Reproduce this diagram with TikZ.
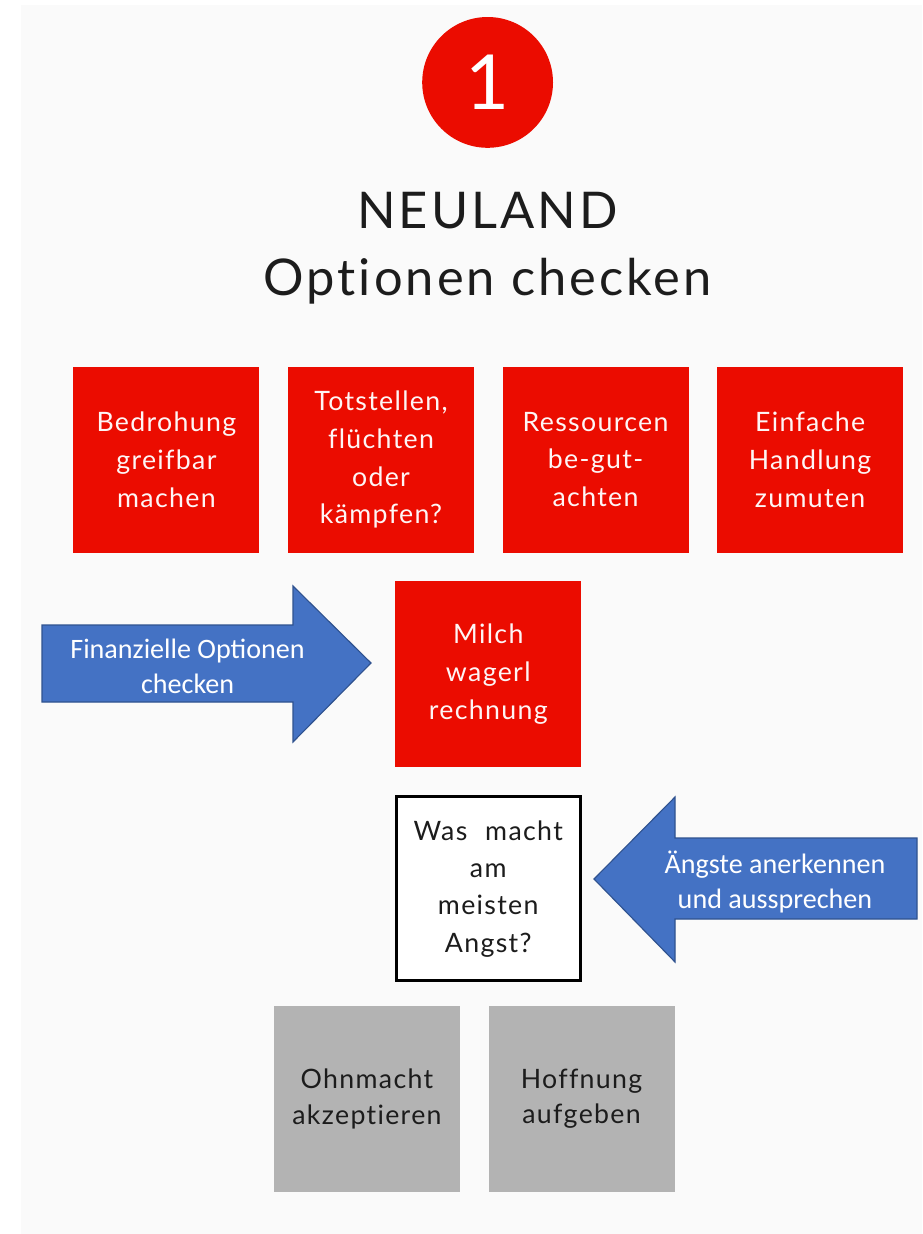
\documentclass[tikz,border=0pt]{standalone}
\usepackage{fontspec}
\setmainfont{Lato}[Ligatures=NoCommon]
\newfontfamily\boxfont{Lato}[LetterSpace=5,Ligatures=NoCommon]
\newfontfamily\titlefont{Lato}[LetterSpace=6,Ligatures=NoCommon]
\newfontfamily\calibri{Carlito}
\usepackage{tikz}
\usetikzlibrary{shapes,arrows,positioning,calc}
\definecolor{boxred}{HTML}{EB0C00}
\definecolor{boxgray}{HTML}{B3B3B3}
\definecolor{arrowblue}{HTML}{4472C4}
\definecolor{arrowline}{HTML}{2F528F}
\definecolor{panel}{HTML}{FAFAFA}
\definecolor{darktext}{HTML}{1C1C1C}

\begin{document}
\begin{tikzpicture}[node distance=0.7cm,
    redbox/.style={rectangle, fill=boxred, minimum size=4.65cm, text width=4.5cm, inner sep=0pt, align=center, text=white!96!boxred, font=\boxfont\fontsize{19}{27}\selectfont},
    graybox/.style={rectangle, fill=boxgray, minimum size=4.65cm, text width=4.5cm, inner sep=0pt, align=center, text=darktext, font=\boxfont\fontsize{19}{25}\selectfont},
    askbox/.style={rectangle, draw=black, line width=2.2pt, fill=white, minimum size=4.6cm, text width=4.4cm, inner sep=0pt, align=center, text=darktext, font=\boxfont\fontsize{19}{26.5}\selectfont},
    bluearrow/.style={fill=arrowblue, draw=arrowline, line width=0.8pt, line join=miter},
    arrowtext/.style={align=center, text=white, font=\calibri\fontsize{20}{25.5}\selectfont}]
    % page and panel
    \useasboundingbox (0,0) rectangle (23.05,-30.85);
    \fill[panel] (0.525,-0.125) rectangle (23.05,-30.85);

    % badge and heading
    \node[circle, fill=boxred, minimum size=3.27cm, inner sep=0pt, text=white, font=\fontsize{54}{54}\selectfont] (badge) at (12.19,-2.06) {1};
    \node[align=center, text=darktext, font=\titlefont\fontsize{36}{47.6}\selectfont] (title) at (12.19,-6.21) {NEULAND\\Optionen checken};

    % first row of red boxes
    \node[redbox] (totstellen) at (9.525,-11.4875) {Totstellen,\\flüchten\\oder\\kämpfen?};
    \node[redbox, left=of totstellen] (bedrohung) {Bedrohung\\greifbar\\machen};
    \node[redbox, right=of totstellen] (ressourcen) {Ressourcen\\be-gut-\\achten};
    \node[redbox, right=of ressourcen] (handlung) {Einfache\\Handlung\\zumuten};

    % middle column
    \node[redbox, below=of $(totstellen.south)!0.5!(ressourcen.south)$, anchor=north] (milch) {Milch\\wagerl\\rechnung};
    \node[askbox, below=of milch] (angst) {Was~ macht\\am\\meisten\\Angst?};

    % grey boxes
    \node[graybox] (ohnmacht) at (9.175,-27.475) {Ohnmacht\\akzeptieren};
    \node[graybox, right=of ohnmacht] (hoffnung) {Hoffnung\\aufgeben};

    % blue block arrows
    \coordinate (fintip) at (9.275,-16.575);
    \coordinate (angsttip) at (14.85,-21.975);
    \draw[bluearrow] (fintip) -- ++(-1.95,1.925) -- ++(0,-0.975) -- ++(-6.275,0) -- ++(0,-1.925) -- ++(6.275,0) -- ++(0,-1.0) -- cycle;
    \draw[bluearrow] (angsttip) -- ++(2.025,2.05) -- ++(0,-1.025) -- ++(6.05,0) -- ++(0,-2.025) -- ++(-6.05,0) -- ++(0,-1.075) -- cycle;
    \node[arrowtext] (fintext) at (4.69,-16.66) {Finanzielle Optionen\\checken};
    \node[arrowtext] (angsttext) at (19.375,-22.05) {Ängste anerkennen\\und aussprechen};
\end{tikzpicture}
\end{document}
